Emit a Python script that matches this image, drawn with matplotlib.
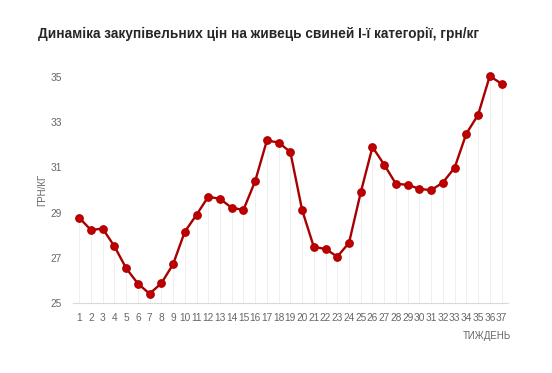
import numpy as np
import matplotlib.pyplot as plt

# дані
weeks = list(range(1, 38))
prices = [28.77, 28.23, 28.29, 27.51, 26.54, 25.86, 25.41, 25.87, 26.71, 28.15,
          28.90, 29.70, 29.61, 29.21, 29.12, 30.39, 32.19, 32.10, 31.68, 29.12,
          27.48, 27.39, 27.05, 27.66, 29.89, 31.90, 31.12, 30.27, 30.23, 30.05,
          29.99, 30.33, 30.98, 32.49, 33.32, 35.04, 34.70]
yticks = [25, 27, 29, 31, 33, 35]

title = 'Динаміка закупівельних цін на живець свиней І-ї категорії, грн/кг'

plt.rcParams['font.family'] = ['Liberation Sans', 'DejaVu Sans']

fig = plt.figure(figsize=(5.52, 3.73), dpi=100)
ax = fig.add_axes([0.132, 0.1877, 0.788, 0.606])

# вертикальні лінії від точок до осі
ax.vlines(weeks, 25, prices, color='#efefef', linewidth=0.7, zorder=1)
ax.plot(weeks, prices, color='#a80000', linewidth=1.7, marker='o',
        markersize=5.3, markerfacecolor='#c00000', markeredgecolor='#b00000',
        zorder=3, clip_on=False)

ax.set_xlim(0.46, 37.54)
ax.set_ylim(25, 35)
ax.set_xticks(weeks)
ax.set_xticklabels([str(w) for w in weeks])
ax.set_yticks(yticks)

for s in ['top', 'right', 'left']:
    ax.spines[s].set_visible(False)
ax.spines['bottom'].set_color('#d9d9d9')
ax.tick_params(axis='x', length=0, pad=7, labelsize=7.3, colors='#666666')
ax.tick_params(axis='y', length=0, pad=8, labelsize=7.3, colors='#666666')

ax.set_ylabel('ГРН/КГ', fontsize=7, color='#666666', labelpad=2)
fig.text(0.925, 0.098, 'ТИЖДЕНЬ', fontsize=7, color='#666666', ha='right', va='center')

fig.text(0.468, 0.91, title, fontsize=9.8, fontweight='bold', color='#262626',
         ha='center', va='center')

fig.savefig('out.png', dpi=100)
